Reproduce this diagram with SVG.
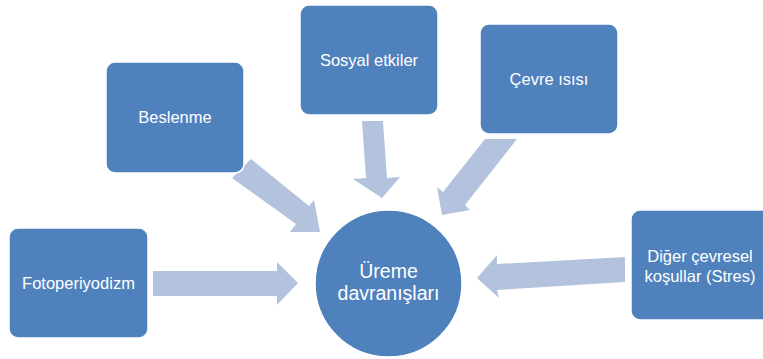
<svg xmlns="http://www.w3.org/2000/svg" width="763" height="359" viewBox="0 0 763 359">
  <style>
    .box { fill: #4F81BD; stroke: #FFFFFF; stroke-width: 1.5; }
    .arrow { fill: #B3C3DE; stroke: none; }
    .lbl { fill: #FFFFFF; font-family: "Liberation Sans", Arial, sans-serif; font-size: 16.5px; text-anchor: middle; }
    .big { font-size: 19.5px; }
  </style>
  <rect width="763" height="359" fill="#FFFFFF"/>
  <g id="connectors">
    <polygon class="arrow" points="153,271 277,271 277,262 298,283 277,305 277,296 153,296"/>
    <polygon class="arrow" points="251,159 309,206 314,200 320,232 290,232 296,224 232,178"/>
    <polygon class="arrow" points="362,121 383,121 387,178 400,177 382,198 353,179 366,178"/>
    <polygon class="arrow" points="485,139 517,139 465,205 470,210 442,215 437,187 443,192"/>
    <polygon class="arrow" points="625,257 625,282 497,290 499,298 477,278 497,255 497,264"/>
  </g>
  <g id="fotoperiyodizm">
    <rect class="box" x="9" y="228" width="139" height="110" rx="9"/>
    <text class="lbl" x="78.5" y="289">Fotoperiyodizm</text>
  </g>
  <g id="beslenme">
    <rect class="box" x="106" y="62" width="138" height="111" rx="9"/>
    <text class="lbl" x="175" y="123">Beslenme</text>
  </g>
  <g id="sosyal-etkiler">
    <rect class="box" x="300" y="5" width="138" height="110" rx="9"/>
    <text class="lbl" x="369" y="66">Sosyal etkiler</text>
  </g>
  <g id="cevre-isisi">
    <rect class="box" x="480" y="24" width="138" height="110" rx="9"/>
    <text class="lbl" x="549" y="85">Çevre ısısı</text>
  </g>
  <g id="diger-cevresel">
    <rect class="box" x="631" y="210" width="140" height="110" rx="9"/>
    <text class="lbl" x="700" y="262">Diğer çevresel</text>
    <text class="lbl" x="700" y="282">koşullar (Stres)</text>
  </g>
  <g id="ureme-davranislari">
    <circle class="box" cx="388.5" cy="283.5" r="73.5"/>
    <text class="lbl big" x="388.5" y="278">Üreme</text>
    <text class="lbl big" x="388.5" y="300">davranışları</text>
  </g>
</svg>
